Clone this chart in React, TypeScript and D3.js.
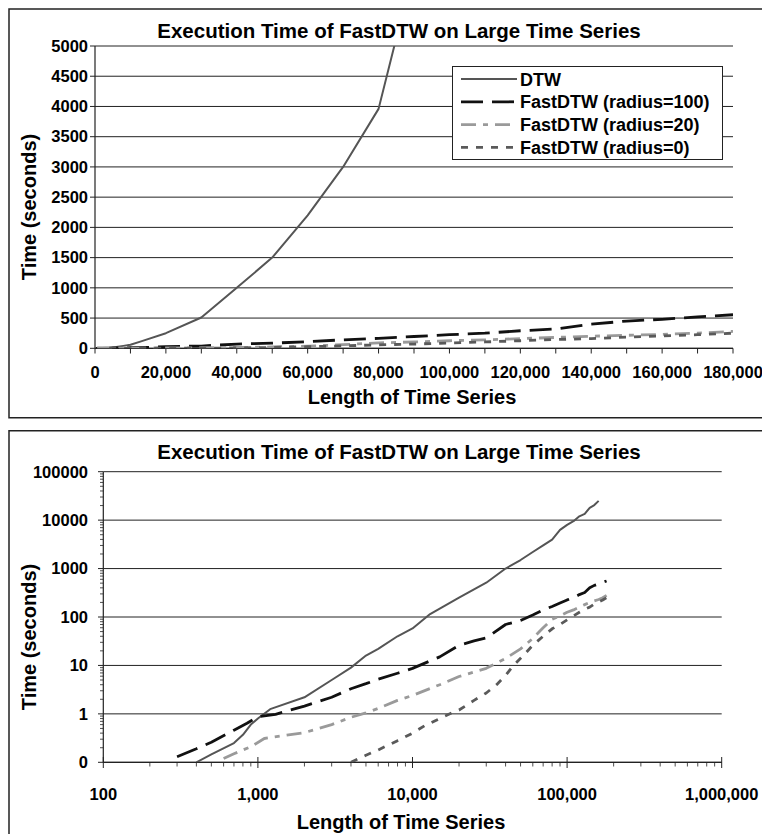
import React from 'react';
import * as d3 from 'd3';

// ---------- Data ----------
const seriesNames = ['DTW', 'FastDTW (radius=100)', 'FastDTW (radius=20)', 'FastDTW (radius=0)'];

const dtwLength = [400, 500, 700, 800, 900, 1000, 1200, 2000, 3000, 4000, 5000, 6000, 8000, 10000, 13000, 20000, 30000, 40000, 50000, 60000, 70000, 80000, 90000, 100000, 110000, 120000, 130000, 140000, 150000, 160000];
const dtwTime = [0.1, 0.145, 0.25, 0.37, 0.6, 0.8, 1.25, 2.2, 5.0, 9.0, 16, 22, 40, 58, 115, 250, 510, 1000, 1500, 2200, 3000, 3960, 6300, 8000, 9500, 12000, 13500, 18000, 20500, 25000];

const r100Length = [300, 400, 500, 700, 850, 1000, 1300, 2000, 3000, 4000, 5000, 6000, 8000, 10000, 15000, 20000, 25000, 30000, 40000, 50000, 60000, 70000, 80000, 90000, 100000, 110000, 120000, 130000, 140000, 150000, 160000, 170000, 180000];
const r100Time = [0.13, 0.19, 0.26, 0.46, 0.64, 0.87, 0.98, 1.45, 2.2, 3.3, 4.2, 5.2, 6.9, 8.7, 15, 26, 32, 37, 70, 85, 110, 140, 165, 195, 225, 250, 290, 320, 400, 450, 480, 520, 555];

const r20Length = [600, 700, 900, 1100, 1500, 2000, 3000, 4000, 5000, 6000, 8000, 10000, 15000, 20000, 30000, 40000, 50000, 60000, 70000, 80000, 90000, 100000, 110000, 120000, 130000, 140000, 150000, 160000, 170000, 180000];
const r20Time = [0.12, 0.15, 0.21, 0.31, 0.36, 0.41, 0.6, 0.85, 1.05, 1.3, 1.9, 2.4, 4.0, 5.9, 8.7, 14, 22, 36, 60, 90, 105, 125, 140, 160, 180, 200, 215, 230, 250, 280];

const r0Length = [4000, 5000, 6000, 8000, 10000, 12000, 15000, 18000, 20000, 25000, 30000, 35000, 40000, 45000, 50000, 60000, 70000, 80000, 90000, 100000, 110000, 120000, 130000, 140000, 150000, 160000, 170000, 180000, 194000];
const r0Time = [0.1, 0.14, 0.18, 0.28, 0.4, 0.57, 0.8, 1.05, 1.2, 1.9, 2.7, 4, 6.2, 10, 14, 26, 40, 57, 70, 87, 105, 125, 145, 160, 185, 205, 225, 250, 330];

const topYTicks = [0, 500, 1000, 1500, 2000, 2500, 3000, 3500, 4000, 4500, 5000];
const topXTicks = [0, 20000, 40000, 60000, 80000, 100000, 120000, 140000, 160000, 180000];
const topXTickLabels = ['0', '20,000', '40,000', '60,000', '80,000', '100,000', '120,000', '140,000', '160,000', '180,000'];
const logYTicks = [0.1, 1, 10, 100, 1000, 10000, 100000];
const logYTickLabels = ['0', '1', '10', '100', '1000', '10000', '100000'];
const logXTicks = [100, 1000, 10000, 100000, 1000000];
const logXTickLabels = ['100', '1,000', '10,000', '100,000', '1,000,000'];

const titleText = 'Execution Time of FastDTW on Large Time Series';
const xTitle = 'Length of Time Series';
const yTitle = 'Time (seconds)';

// ---------- Styles ----------
const styles = [
  { color: '#555555', width: 2, dash: '' },
  { color: '#111111', width: 2.8, dash: '22,9' },
  { color: '#9a9a9a', width: 2.8, dash: '15,7,5,7' },
  { color: '#5a5a5a', width: 2.8, dash: '7,8' },
];

const FONT = "'Liberation Sans', Arial, Helvetica, sans-serif";

const series = [
  { name: seriesNames[0], n: dtwLength, t: dtwTime },
  { name: seriesNames[1], n: r100Length, t: r100Time },
  { name: seriesNames[2], n: r20Length, t: r20Time },
  { name: seriesNames[3], n: r0Length, t: r0Time },
];

export default function App() {
  // Top (linear) chart
  const tx = d3.scaleLinear().domain([0, 180000]).range([95, 733]);
  const ty = d3.scaleLinear().domain([0, 5000]).range([348.3, 46]);
  // Bottom (log) chart
  const bx = d3.scaleLog().domain([100, 1e6]).range([103.3, 721.7]);
  const by = d3.scaleLog().domain([0.1, 1e5]).range([762.3, 471.7]);

  const lineTop = d3.line<[number, number]>().x(d => tx(d[0])).y(d => ty(d[1]));
  const lineBot = d3.line<[number, number]>().x(d => bx(d[0])).y(d => by(d[1]));

  const pts = (s: typeof series[0]) => s.n.map((v, i) => [v, s.t[i]] as [number, number]);

  const topMinorX = d3.range(0, 180001, 10000);
  const logMinorX: number[] = [];
  for (let e = 2; e < 6; e++) for (let k = 2; k <= 9; k++) logMinorX.push(k * Math.pow(10, e));
  const logMinorY: number[] = [];
  for (let e = -1; e < 5; e++) for (let k = 2; k <= 9; k++) logMinorY.push(k * Math.pow(10, e));

  const txtBase = { fontFamily: FONT, fontWeight: 700, fill: '#000' } as const;

  const legendRows = [0, 1, 2, 3];

  return (
    <svg width={762} height={834} style={{ position: 'absolute', left: 0, top: 0, background: '#fff' }}>
      <defs>
        <clipPath id="clipTop"><rect x={95} y={46} width={638} height={302.3} /></clipPath>
        <clipPath id="clipBot"><rect x={103.3} y={471.7} width={618.4} height={290.6} /></clipPath>
      </defs>
      <rect x={0} y={0} width={762} height={834} fill="#fff" />

      {/* ================= TOP CHART ================= */}
      <path d="M762,9 H9 V417.7 H762" fill="none" stroke="#222" strokeWidth={1.5} />
      <text x={399} y={37.5} textAnchor="middle" fontSize={20.5} {...txtBase}>{titleText}</text>

      {topYTicks.map(v => (
        <g key={'tg' + v}>
          <line x1={95} x2={733} y1={ty(v)} y2={ty(v)} stroke="#222" strokeWidth={1} />
          <line x1={90} x2={95} y1={ty(v)} y2={ty(v)} stroke="#222" strokeWidth={1} />
          <text x={88} y={ty(v) + 5.8} textAnchor="end" fontSize={16.5} {...txtBase}>{v}</text>
        </g>
      ))}
      <line x1={95} x2={95} y1={46} y2={348.3} stroke="#222" strokeWidth={1.2} />
      <line x1={95} x2={733} y1={348.3} y2={348.3} stroke="#222" strokeWidth={1.2} />
      {topMinorX.map(v => (
        <line key={'tmx' + v} x1={tx(v)} x2={tx(v)} y1={348.3} y2={353.5} stroke="#222" strokeWidth={1} />
      ))}
      {topXTicks.map((v, i) => (
        <text key={'txl' + v} x={tx(v)} y={377.5} textAnchor="middle" fontSize={16.5} {...txtBase}>{topXTickLabels[i]}</text>
      ))}
      <text x={412} y={404} textAnchor="middle" fontSize={20} {...txtBase}>{xTitle}</text>
      <text transform="translate(36,207) rotate(-90)" textAnchor="middle" fontSize={20} {...txtBase}>{yTitle}</text>

      <g clipPath="url(#clipTop)">
        {series.map((s, i) => (
          <path key={'tl' + i} d={lineTop(pts(s)) || ''} fill="none" stroke={styles[i].color}
            strokeWidth={styles[i].width} strokeDasharray={styles[i].dash || undefined} strokeLinejoin="round" />
        ))}
      </g>

      {/* Legend */}
      <rect x={452.5} y={66.5} width={270} height={93} fill="#fff" stroke="#222" strokeWidth={1} />
      {legendRows.map(i => {
        const cy = 79 + i * 22.8;
        return (
          <g key={'lg' + i}>
            <line x1={461} x2={517} y1={cy} y2={cy} stroke={styles[i].color} strokeWidth={styles[i].width}
              strokeDasharray={styles[i].dash || undefined} />
            <text x={520} y={cy + 6.5} fontSize={18} {...txtBase}>{seriesNames[i]}</text>
          </g>
        );
      })}

      {/* ================= BOTTOM CHART ================= */}
      <path d="M762,430.7 H9 V834" fill="none" stroke="#222" strokeWidth={1.5} />
      <text x={399} y={459} textAnchor="middle" fontSize={20.5} {...txtBase}>{titleText}</text>

      {logYTicks.map((v, i) => (
        <g key={'bg' + v}>
          <line x1={103.3} x2={721.7} y1={by(v)} y2={by(v)} stroke="#222" strokeWidth={1} />
          <line x1={98} x2={103.3} y1={by(v)} y2={by(v)} stroke="#222" strokeWidth={1} />
          <text x={88} y={by(v) + 5.8} textAnchor="end" fontSize={16.5} {...txtBase}>{logYTickLabels[i]}</text>
        </g>
      ))}
      {logMinorY.map(v => (
        <line key={'bmy' + v} x1={100} x2={103.3} y1={by(v)} y2={by(v)} stroke="#222" strokeWidth={0.8} />
      ))}
      <line x1={103.3} x2={103.3} y1={471.7} y2={762.3} stroke="#222" strokeWidth={1.2} />
      <line x1={103.3} x2={721.7} y1={762.3} y2={762.3} stroke="#222" strokeWidth={1.2} />
      {logXTicks.map((v, i) => (
        <g key={'bxl' + v}>
          <line x1={bx(v)} x2={bx(v)} y1={757} y2={768} stroke="#222" strokeWidth={1} />
          <text x={bx(v)} y={800} textAnchor="middle" fontSize={16.5} {...txtBase}>{logXTickLabels[i]}</text>
        </g>
      ))}
      {logMinorX.map(v => (
        <line key={'bmx' + v} x1={bx(v)} x2={bx(v)} y1={762.3} y2={766.5} stroke="#222" strokeWidth={0.8} />
      ))}
      <text x={401} y={829} textAnchor="middle" fontSize={20} {...txtBase}>{xTitle}</text>
      <text transform="translate(36,637) rotate(-90)" textAnchor="middle" fontSize={20} {...txtBase}>{yTitle}</text>

      <g clipPath="url(#clipBot)">
        {series.map((s, i) => (
          <path key={'bl' + i} d={lineBot(pts(s)) || ''} fill="none" stroke={styles[i].color}
            strokeWidth={styles[i].width} strokeDasharray={styles[i].dash || undefined} strokeLinejoin="round" />
        ))}
      </g>
    </svg>
  );
}
